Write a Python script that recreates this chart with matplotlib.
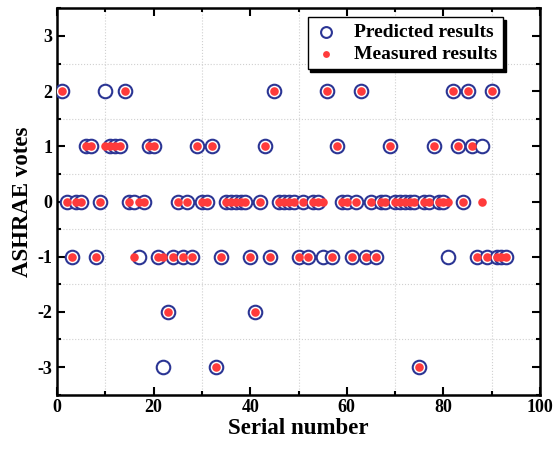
import matplotlib
matplotlib.use('Agg')
import matplotlib.pyplot as plt
from matplotlib.ticker import MultipleLocator

# serial numbers 1..93
serial = list(range(1, 94))

# predicted ASHRAE votes
predicted = [2, 0, -1, 0, 0, 1, 1, -1, 0, 2,
             1, 1, 1, 2, 0, 0, -1, 0, 1, 1,
             -1, -3, -2, -1, 0, -1, 0, -1, 1, 0,
             0, 1, -3, -1, 0, 0, 0, 0, 0, -1,
             -2, 0, 1, -1, 2, 0, 0, 0, 0, -1,
             0, -1, 0, 0, -1, 2, -1, 1, 0, 0,
             -1, 0, 2, -1, 0, -1, 0, 0, 1, 0,
             0, 0, 0, 0, -3, 0, 0, 1, 0, 0,
             -1, 2, 1, 0, 2, 1, -1, 1, -1, 2,
             -1, -1, -1]

# measured ASHRAE votes
measured = [2, 0, -1, 0, 0, 1, 1, -1, 0, 1,
            1, 1, 1, 2, 0, -1, 0, 0, 1, 1,
            -1, -1, -2, -1, 0, -1, 0, -1, 1, 0,
            0, 1, -3, -1, 0, 0, 0, 0, 0, -1,
            -2, 0, 1, -1, 2, 0, 0, 0, 0, -1,
            0, -1, 0, 0, 0, 2, -1, 1, 0, 0,
            -1, 0, 2, -1, 0, -1, 0, 0, 1, 0,
            0, 0, 0, 0, -3, 0, 0, 1, 0, 0,
            0, 2, 1, 0, 2, 1, -1, 0, -1, 2,
            -1, -1, -1]

plt.rcParams['font.family'] = ['Liberation Serif', 'DejaVu Serif']
plt.rcParams['font.weight'] = 'bold'
plt.rcParams['axes.unicode_minus'] = False

fig = plt.figure(figsize=(5.53, 4.54), dpi=100)
ax = fig.add_axes([0.1031, 0.1308, 0.8734, 0.8507])

ax.scatter(serial, predicted, s=95, facecolors='white', edgecolors='#2b3594',
           linewidths=1.5, label='Predicted results', zorder=3)
ax.scatter(serial, measured, s=38, color='#ff3b3b', linewidths=0,
           label='Measured results', zorder=4)

ax.set_xlim(0, 100)
ax.set_ylim(-3.5, 3.5)
ax.xaxis.set_major_locator(MultipleLocator(20))
ax.xaxis.set_minor_locator(MultipleLocator(10))
ax.yaxis.set_major_locator(MultipleLocator(1))
ax.yaxis.set_minor_locator(MultipleLocator(0.5))

ax.tick_params(which='both', direction='in', top=True, right=True,
               labelsize=13, width=1.5)
ax.tick_params(which='major', length=6)
ax.tick_params(which='minor', length=3)
for lab in ax.get_xticklabels() + ax.get_yticklabels():
    lab.set_fontweight('bold')

ax.grid(which='minor', linestyle=':', color='#d0d0d0', linewidth=0.8)
for s in ax.spines.values():
    s.set_linewidth(1.8)

ax.set_xlabel('Serial number', fontsize=16.5, fontweight='bold', labelpad=1)
ax.set_ylabel('ASHRAE votes', fontsize=16.5, fontweight='bold', labelpad=3)

leg = ax.legend(loc='upper right', bbox_to_anchor=(0.924, 0.977),
                borderaxespad=0, fancybox=False, edgecolor='black',
                framealpha=1, prop={'size': 14, 'weight': 'bold'},
                shadow={'color': 'black', 'alpha': 1}, handletextpad=0.8,
                handlelength=1.3, labelspacing=0.25, borderpad=0.3,
                markerscale=0.8)
leg.get_frame().set_linewidth(1.0)

plt.savefig('out.png', dpi=100)
